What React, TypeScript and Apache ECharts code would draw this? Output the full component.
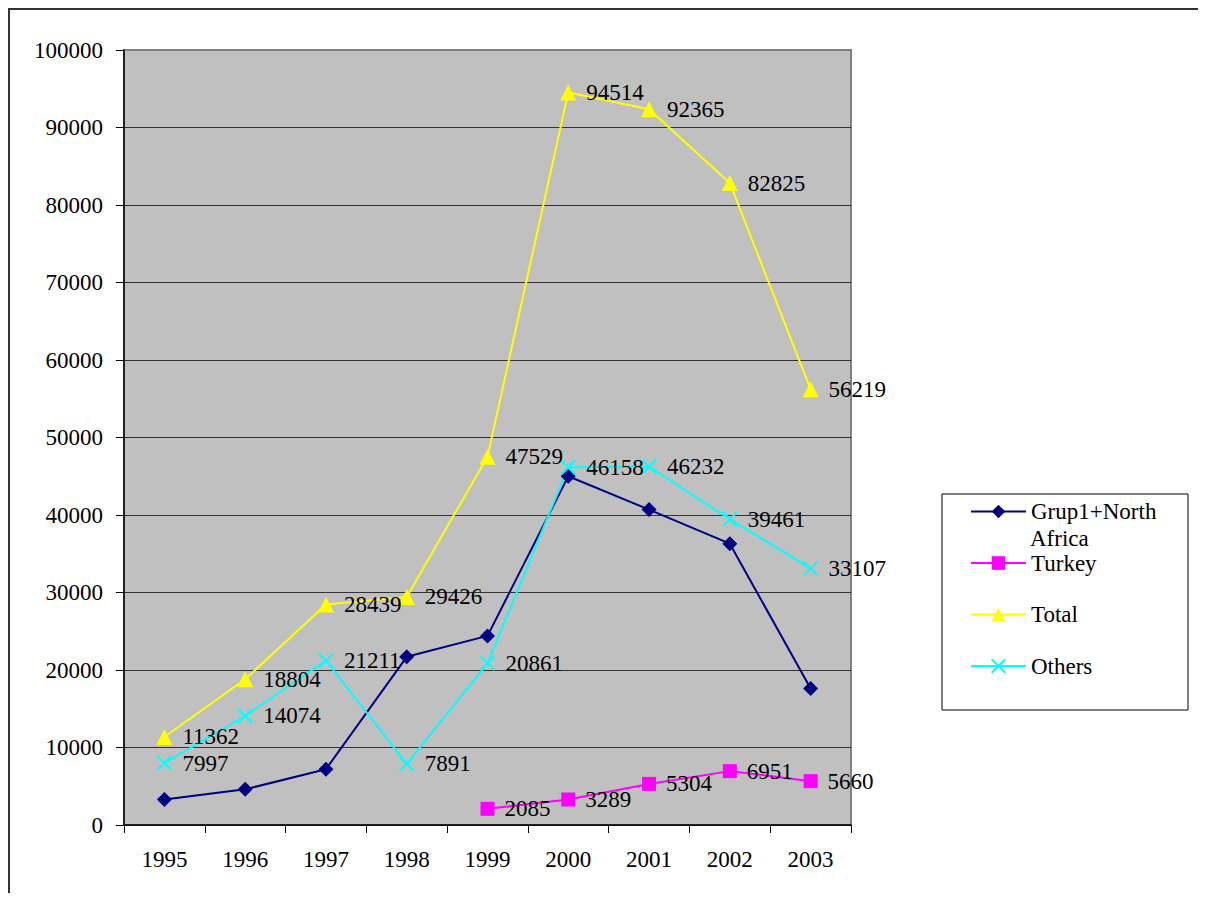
import React, { useEffect, useRef } from "react";
import * as echarts from "echarts";

const years = ["1995", "1996", "1997", "1998", "1999", "2000", "2001", "2002", "2003"];
const grupNorthAfrica = [3300, 4600, 7200, 21700, 24400, 45000, 40700, 36300, 17600];
const turkey = [null, null, null, null, 2085, 3289, 5304, 6951, 5660];
const total = [11362, 18804, 28439, 29426, 47529, 94514, 92365, 82825, 56219];
const others = [7997, 14074, 21211, 7891, 20861, 46158, 46232, 39461, 33107];

const FONT = "Liberation Serif";

export default function App() {
  const ref = useRef<HTMLDivElement>(null);
  useEffect(() => {
    if (!ref.current) return;
    const chart = echarts.init(ref.current, undefined, { renderer: "svg" });
    const label = {
      show: true,
      position: "right" as const,
      distance: 10,
      color: "#000",
      fontFamily: FONT,
      fontSize: 23,
    };
    const splitColors = ["#333", "#333", "#333", "#333", "#333", "#333", "#333", "#333", "#333", "#333", "#808080"];
    chart.setOption({
      animation: false,
      textStyle: { fontFamily: FONT },
      grid: {
        left: 116,
        top: 42,
        width: 727,
        height: 775,
        show: true,
        backgroundColor: "#C0C0C0",
        borderColor: "#808080",
        borderWidth: 2,
      },
      xAxis: {
        type: "category",
        data: years,
        boundaryGap: true,
        axisLine: { lineStyle: { color: "#000", width: 1.5 } },
        axisTick: { show: true, length: 8, lineStyle: { color: "#000" } },
        axisLabel: { color: "#000", fontFamily: FONT, fontSize: 23, margin: 23 },
        splitLine: { show: false },
      },
      yAxis: {
        type: "value",
        min: 0,
        max: 100000,
        interval: 10000,
        axisLine: { show: true, lineStyle: { color: "#000", width: 1.5 } },
        axisTick: { show: true, length: 8, lineStyle: { color: "#000" } },
        axisLabel: {
          color: "#000",
          fontFamily: FONT,
          fontSize: 23,
          margin: 21,
          formatter: (v: number) => String(v),
        },
        splitLine: { show: true, lineStyle: { color: splitColors, width: 1 } },
      },
      legend: {
        orient: "vertical",
        left: 962,
        top: 492,
        padding: 0,
        itemWidth: 55,
        itemHeight: 17,
        itemGap: 28.5,
        textStyle: { color: "#000", fontFamily: FONT, fontSize: 23 },
        formatter: (name: string) => (name === "Grup1+North Africa" ? "Grup1+North" : name),
        data: ["Grup1+North Africa", "Turkey", "Total", "Others"],
      },
      graphic: [
        { type: "line", shape: { x1: 0, y1: 1, x2: 1190, y2: 1 }, style: { stroke: "#333", lineWidth: 2 } },
        { type: "line", shape: { x1: 1, y1: 0, x2: 1, y2: 885 }, style: { stroke: "#333", lineWidth: 2 } },
        {
          type: "rect",
          shape: { x: 934, y: 486, width: 246, height: 216 },
          style: { fill: "none", stroke: "#000", lineWidth: 1 },
        },
        {
          type: "text",
          left: 1022,
          top: 519,
          style: { text: "Africa", fill: "#000", fontFamily: FONT, fontSize: 23 },
        },
      ],
      series: [
        {
          name: "Grup1+North Africa",
          type: "line",
          data: grupNorthAfrica,
          symbol: "diamond",
          symbolSize: 15,
          lineStyle: { color: "#000080", width: 2 },
          itemStyle: { color: "#000080" },
        },
        {
          name: "Turkey",
          type: "line",
          data: turkey,
          symbol: "rect",
          symbolSize: 14,
          lineStyle: { color: "#FF00FF", width: 2 },
          itemStyle: { color: "#FF00FF" },
          label,
        },
        {
          name: "Total",
          type: "line",
          data: total,
          symbol: "triangle",
          symbolSize: 16,
          lineStyle: { color: "#FFFF00", width: 2 },
          itemStyle: { color: "#FFFF00" },
          label,
        },
        {
          name: "Others",
          type: "line",
          data: others,
          symbol: "path://M0,0L10,10M10,0L0,10",
          symbolSize: 14,
          lineStyle: { color: "#00FFFF", width: 2 },
          itemStyle: { color: "#00FFFF", borderColor: "#00FFFF", borderWidth: 2 },
          label,
        },
      ],
    });
    return () => chart.dispose();
  }, []);
  return <div ref={ref} style={{ width: 1190, height: 885 }} />;
}
